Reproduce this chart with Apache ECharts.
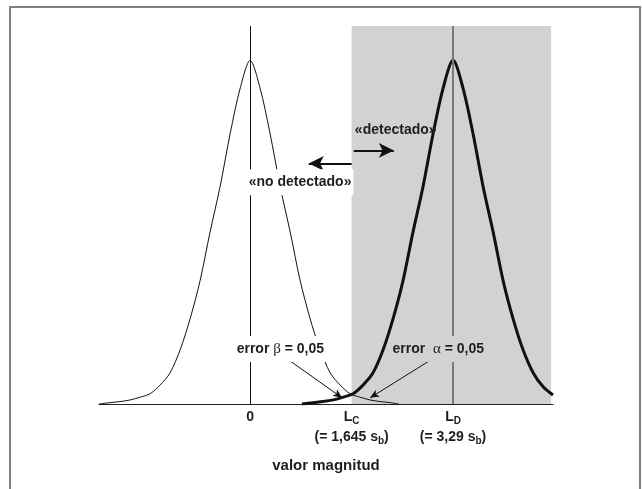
<!DOCTYPE html>
<html><head><meta charset="utf-8">
<script src="https://cdn.jsdelivr.net/npm/echarts@6/dist/echarts.min.js"></script>
<style>html,body{margin:0;padding:0;background:#fff}#c{width:642px;height:489px}</style>
</head><body><div id="c"></div>
<script>
// ---- data (x in units of s_b, y relative peak height) ----
const blankX = [-2.45, -2.27, -2.11, -1.94, -1.78, -1.62, -1.46, -1.30, -1.13, -0.97, -0.81, -0.65, -0.49, -0.32, -0.16, 0,
                0.16, 0.32, 0.49, 0.65, 0.81, 0.97, 1.13, 1.30, 1.46, 1.62, 1.78, 1.94, 2.11, 2.27, 2.41];
const blankY = [0.0, 0.004, 0.007, 0.012, 0.02, 0.03, 0.055, 0.09, 0.16, 0.25, 0.36, 0.50, 0.63, 0.79, 0.92, 1.0,
                0.92, 0.79, 0.63, 0.50, 0.36, 0.25, 0.16, 0.09, 0.055, 0.03, 0.02, 0.012, 0.007, 0.004, 0.0];
const signalX = [0.84, 1.02, 1.18, 1.35, 1.51, 1.67, 1.83, 1.99, 2.16, 2.32, 2.48, 2.64, 2.80, 2.97, 3.13, 3.29,
                 3.45, 3.61, 3.78, 3.94, 4.10, 4.26, 4.42, 4.59, 4.75, 4.91];
const signalY = [0.0, 0.004, 0.007, 0.012, 0.02, 0.03, 0.055, 0.09, 0.16, 0.25, 0.36, 0.50, 0.63, 0.79, 0.92, 1.0,
                 0.92, 0.79, 0.63, 0.50, 0.36, 0.25, 0.16, 0.09, 0.05, 0.026];
const tickValues = [0, 1.645, 3.29];
const tickLabels = ['0', 'L{sub|C}\n(= 1,645 s{sub|b})', 'L{sub|D}\n(= 3,29 s{sub|b})'];
const axisName = 'valor magnitud';
const criticalLevel = 1.645;
const detectionLimit = 3.29;
const regionEnd = 4.88;
const xMin = -2.45, xMax = 4.91, yMax = 1.1;
const annotations = [
  {text: '«no detectado»', at: [0.81, 0.645], bg: '#ffffff'},
  {text: '«detectado»', at: [2.36, 0.796], bg: 'transparent'},
  {text: 'error {g|β} = 0,05', at: [0.49, 0.16], bg: '#ffffff'},
  {text: 'error  {g|α} = 0,05', at: [3.05, 0.16], bg: '#d1d2d4'}
];
const bigArrows = [[[1.645, 0.70], [0.95, 0.70]], [[1.68, 0.738], [2.33, 0.738]]];
const smallArrows = [[[0.65, 0.125], [1.49, 0.018]], [[2.90, 0.125], [1.945, 0.018]]];

const FONT = '"Liberation Sans", Arial, sans-serif';
const TXT = '#1e1e1e';
const zip = (a, b) => a.map((v, i) => [v, b[i]]);

const chart = echarts.init(document.getElementById('c'), null, {renderer: 'canvas'});
chart.setOption({
  animation: false,
  backgroundColor: '#ffffff',
  grid: {left: 99, right: 89, top: 26, bottom: 85, containLabel: false, outerBoundsMode: 'none'},
  xAxis: {
    type: 'value', min: xMin, max: xMax,
    splitLine: {show: false},
    axisTick: {show: false},
    axisLine: {show: true, onZero: false, lineStyle: {color: '#222', width: 1}},
    name: axisName, nameLocation: 'middle', nameGap: 54,
    nameTextStyle: {fontFamily: FONT, fontWeight: 'bold', fontSize: 15, color: TXT},
    axisLabel: {
      customValues: tickValues,
      margin: 3,
      formatter: (v) => tickLabels[tickValues.indexOf(v)] ?? '',
      fontFamily: FONT, fontWeight: 'bold', fontSize: 14, color: TXT, lineHeight: 20,
      rich: {sub: {fontFamily: FONT, fontWeight: 'bold', fontSize: 10, color: TXT, padding: [9, 0, 0, 0]}}
    }
  },
  yAxis: {type: 'value', min: 0, max: yMax, show: false},
  graphic: [{
    type: 'rect', silent: true, z: 100,
    shape: {x: 10, y: 7, width: 630, height: 520},
    style: {fill: 'none', stroke: '#808080', lineWidth: 2}
  }],
  series: [
    { // shaded region beyond L_C
      type: 'line', data: [], z: 1, silent: true,
      markArea: {silent: true, itemStyle: {color: '#d1d2d4'},
        data: [[{coord: [criticalLevel, 0]}, {coord: [regionEnd, yMax]}]]}
    },
    { // vertical line at 0
      type: 'line', data: [], z: 2, silent: true,
      markLine: {silent: true, symbol: 'none', label: {show: false},
        lineStyle: {color: '#111', width: 1, type: 'solid'},
        data: [[{coord: [0, 0]}, {coord: [0, yMax]}]]}
    },
    { // blank distribution
      type: 'line', data: zip(blankX, blankY), z: 3, showSymbol: false, smooth: 0.3,
      lineStyle: {color: '#111', width: 1}
    },
    { // distribution at L_D
      type: 'line', data: zip(signalX, signalY), z: 4, showSymbol: false, smooth: 0.3,
      lineStyle: {color: '#111', width: 3}
    },
    { // text annotations
      type: 'line', data: [], z: 5, silent: true,
      markPoint: {
        silent: true, symbol: 'circle', symbolSize: 0,
        data: annotations.map(a => ({
          coord: a.at,
          label: {
            show: true, position: 'inside', formatter: a.text,
            fontFamily: FONT, fontWeight: 'bold', fontSize: 14, color: TXT,
            backgroundColor: a.bg, padding: [5, 2], lineHeight: 16,
            rich: {g: {fontFamily: '"Liberation Serif", serif', fontWeight: 'normal', fontSize: 15, color: TXT}}
          }
        }))
      }
    },
    { // vertical line at L_D + arrows
      type: 'line', data: [], z: 6, silent: true,
      markLine: {silent: true, label: {show: false}, symbol: 'none',
        lineStyle: {type: 'solid', color: '#111', width: 1},
        data: [
          [{coord: [detectionLimit, 0], lineStyle: {color: '#7a7a7a', width: 2, type: 'solid'}},
           {coord: [detectionLimit, yMax]}]
        ].concat(bigArrows.map(a => [
          {coord: a[0], symbol: 'none', lineStyle: {color: '#111', width: 2, type: 'solid'}},
          {coord: a[1], symbol: 'arrow', symbolSize: [11, 15]}
        ])).concat(smallArrows.map(a => [
          {coord: a[0], symbol: 'none', lineStyle: {color: '#111', width: 1, type: 'solid'}},
          {coord: a[1], symbol: 'arrow', symbolSize: [6, 9]}
        ]))
      }
    }
  ]
});
</script></body></html>
